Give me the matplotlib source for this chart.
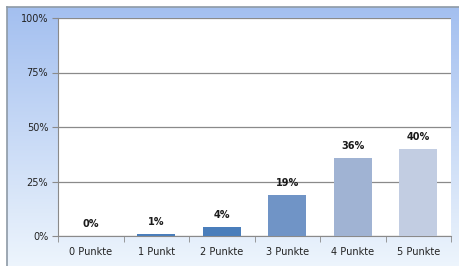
import numpy as np
import matplotlib
matplotlib.use("Agg")
import matplotlib.pyplot as plt
from matplotlib.lines import Line2D

# data
categories = ["0 Punkte", "1 Punkt", "2 Punkte", "3 Punkte", "4 Punkte", "5 Punkte"]
values = [0, 1, 4, 19, 36, 40]
labels = ["0%", "1%", "4%", "19%", "36%", "40%"]
bar_colors = ["#4a7ebb", "#4a7ebb", "#4a7ebb", "#7094c6", "#a0b3d3", "#c2cde2"]
yticks = [0, 25, 50, 75, 100]
ytick_labels = ["0%", "25%", "50%", "75%", "100%"]

plt.rcParams['font.family'] = ['DejaVu Sans']

W, H = 459, 266
fig = plt.figure(figsize=(W / 100, H / 100), dpi=100)
fig.patch.set_facecolor("white")

# gradient background of the chart area
bg = fig.add_axes([7 / W, 0, 1 - 7 / W, 1 - 7 / H])
grad = np.linspace(0, 1, 256).reshape(-1, 1)
top = np.array([0.64, 0.75, 0.94])
bot = np.array([0.93, 0.96, 0.99])
img = top + (bot - top) * grad[:, :, None]
bg.imshow(img, aspect="auto", extent=[0, 1, 0, 1])
bg.set_axis_off()

# outer frame (left + top)
fig.add_artist(Line2D([7 / W, 7 / W], [0, 1 - 7 / H], transform=fig.transFigure,
                      color="#8e9aa6", lw=1.2))
fig.add_artist(Line2D([7 / W, 1], [1 - 7 / H, 1 - 7 / H], transform=fig.transFigure,
                      color="#8e9aa6", lw=1.2))

ax = fig.add_axes([58 / W, 30 / H, 393 / W, 218 / H])
ax.set_facecolor("white")
x = np.arange(len(categories))
ax.bar(x, values, width=0.58, color=bar_colors, zorder=3)

for xi, v, lab in zip(x, values, labels):
    ax.annotate(lab, (xi, v), xytext=(0, 5), textcoords="offset points",
                ha="center", va="bottom", fontsize=7, fontweight="bold",
                color="#1a1a1a")

ax.set_xlim(-0.5, len(categories) - 0.5)
ax.set_ylim(0, 100)
ax.set_yticks(yticks)
ax.set_yticklabels(ytick_labels, fontsize=7, color="#222222")
ax.set_xticks(x)
ax.set_xticklabels(categories, fontsize=7, color="#222222")
ax.tick_params(axis="x", length=0, pad=8)
ax.set_xticks(np.arange(-0.5, len(categories), 1), minor=True)
ax.tick_params(axis="x", which="minor", length=4, color="#8a8a8a", direction="out")
ax.tick_params(axis="y", length=4, color="#8a8a8a", pad=3)

ax.yaxis.grid(True, color="#8a8a8a", lw=0.9, zorder=1)
for s in ["top", "right"]:
    ax.spines[s].set_visible(False)
ax.spines["left"].set_color("#8a8a8a")
ax.spines["bottom"].set_color("#8a8a8a")

fig.savefig("out.png", dpi=100)
